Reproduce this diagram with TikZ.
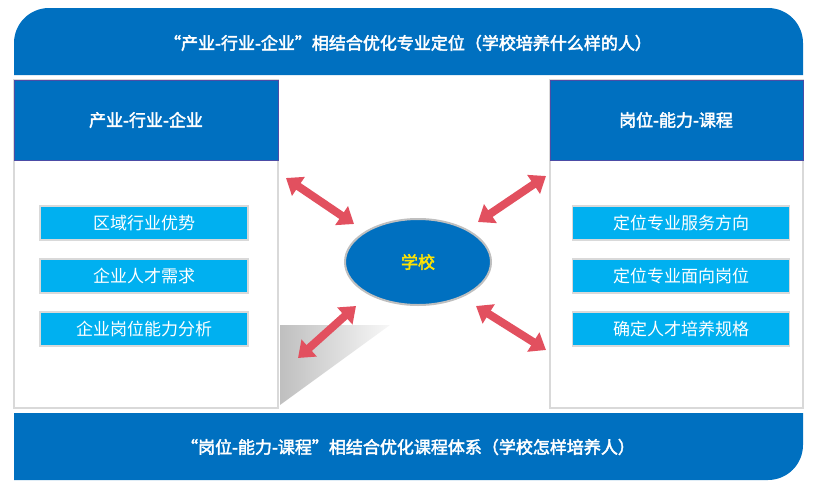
\documentclass[tikz,border=0pt]{standalone}
\usepackage{fontspec}
\newfontfamily\cjk{Noto Sans CJK SC}
\newfontfamily\cjkb{Noto Sans CJK SC}[FakeBold=2.5]
\usetikzlibrary{arrows.meta,shapes.geometric}
\definecolor{bblue}{HTML}{0070C0}
\definecolor{lblue}{HTML}{00B0F0}
\definecolor{ared}{HTML}{E2505F}
\begin{document}
\begin{tikzpicture}[x=1pt,y=-1pt,
 banner/.style={fill=bblue},
 btxt/.style={text=white,font=\cjkb\fontsize{17}{20}\selectfont},
 panel/.style={draw=black!15,line width=1.5pt,fill=white},
 head/.style={fill=bblue,draw=blue!50!black!70,line width=1pt},
 item/.style={fill=lblue,draw=black!15,line width=1.5pt,minimum height=34pt,text=white,font=\cjk\fontsize{17}{20}\selectfont,inner sep=0pt},
 darr/.style={ared,line width=8pt,{Triangle[width=22pt,length=15pt]}-{Triangle[width=22pt,length=15pt]},shorten <=0pt,shorten >=0pt}]
\useasboundingbox (0,0) rectangle (817,499);
% top banner
\fill[banner] (14,75) -- (14,43) arc[start angle=180,end angle=270,radius=35] -- (768,8) arc[start angle=270,end angle=360,radius=35] -- (803,75) -- cycle;
\node[btxt] (top) at (408,43) {“产业-行业-企业”相结合优化专业定位（学校培养什么样的人）};
% panels
\draw[panel] (14,80) rectangle (278,408);
\draw[panel] (550,80) rectangle (803,408);
\draw[head] (14,80) rectangle (278,160);
\draw[head] (550,80) rectangle (803,160);
\node[btxt] (lh) at (146,120) {产业-行业-企业};
\node[btxt] (rh) at (676,120) {岗位-能力-课程};
% shadow
\shade[left color=black!25,right color=black!3] (280,405) -- (280,325) -- (390,325) -- cycle;
% items
\node[item,minimum width=208pt] (l1) at (144,223) {区域行业优势};
\node[item,minimum width=208pt] (l2) at (144,276) {企业人才需求};
\node[item,minimum width=208pt] (l3) at (144,329) {企业岗位能力分析};
\node[item,minimum width=217pt] (r1) at (681,223) {定位专业服务方向};
\node[item,minimum width=217pt] (r2) at (681,276) {定位专业面向岗位};
\node[item,minimum width=217pt] (r3) at (681,329) {确定人才培养规格};
% bottom banner
\fill[banner] (14,413) -- (803,413) -- (803,445) arc[start angle=0,end angle=90,radius=35] -- (14,480) -- cycle;
\node[btxt] (bot) at (408,447) {“岗位-能力-课程”相结合优化课程体系（学校怎样培养人）};
% centre
\node[ellipse,draw=black!25,line width=2pt,fill=bblue,minimum width=146pt,minimum height=86pt,text=yellow!85!orange,font=\cjkb\fontsize{17}{20}\selectfont] (sch) at (418,262) {学校};
\coordinate (a1) at (286,178); \coordinate (b1) at (354,224);
\coordinate (a2) at (546,176); \coordinate (b2) at (478,222);
\coordinate (a3) at (298,358); \coordinate (b3) at (356,306);
\coordinate (a4) at (476,306); \coordinate (b4) at (546,350);
\draw[darr] (a1) -- (b1);
\draw[darr] (a2) -- (b2);
\draw[darr] (a3) -- (b3);
\draw[darr] (a4) -- (b4);
\end{tikzpicture}
\end{document}
